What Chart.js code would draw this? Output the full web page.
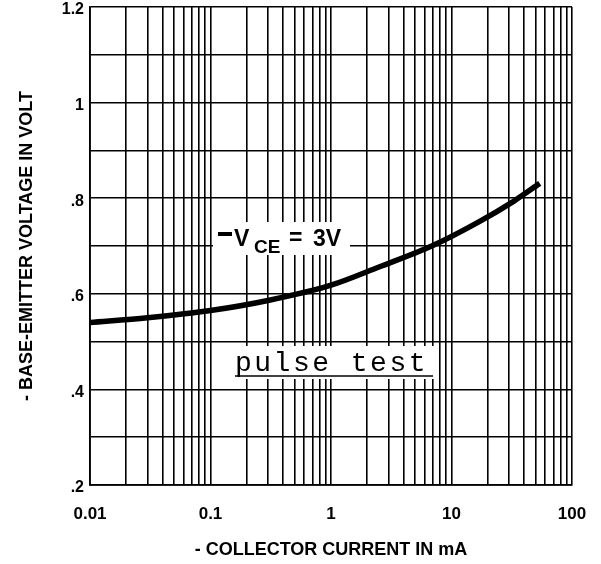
<!DOCTYPE html>
<html>
<head>
<meta charset="utf-8">
<script src="https://cdn.jsdelivr.net/npm/chart.js@4/dist/chart.umd.min.js"></script>
<style>
  body { margin: 0; background: #fff; }
</style>
</head>
<body>
<canvas id="grafica" width="601" height="564"></canvas>
<script>
// collector current in mA
const current = [0.01, 0.03, 0.1, 0.3, 1, 2.5, 7, 17, 33, 54];
// base-emitter voltage in volt at those currents
const voltage = [0.540, 0.550, 0.565, 0.586, 0.618, 0.656, 0.701, 0.751, 0.794, 0.831];

// log grid: decades and the 2..9 lines inside each
const decades = [0.01, 0.1, 1, 10];
const multiples = [1, 2, 3, 4, 5, 6, 7, 8, 9];
const xMax = 100;
const xLabels = { 0.01: '0.01', 0.1: '0.1', 1: '1', 10: '10', 100: '100' };

// horizontal lines every 0.1 V, labels every 0.2 V
const yLines = [0.2, 0.3, 0.4, 0.5, 0.6, 0.7, 0.8, 0.9, 1.0, 1.1, 1.2];
const yLabels = ['.2', '', '.4', '', '.6', '', '.8', '', '1', '', '1.2'];

const xLines = [];
decades.forEach(d => multiples.forEach(m => xLines.push(+(d * m).toPrecision(3))));
xLines.push(xMax);

const FONT = '"Liberation Sans", Arial, sans-serif';

const notes = {
  id: 'notes',
  afterDraw(chart) {
    const ctx = chart.ctx;
    ctx.save();

    // -VCE = 3V
    ctx.fillStyle = '#fff';
    ctx.fillRect(213, 222, 137, 33);
    ctx.fillStyle = '#000';
    ctx.fillRect(218, 232, 14, 4);   // the leading minus
    ctx.textBaseline = 'alphabetic';
    ctx.font = 'bold 23px ' + FONT;
    ctx.fillText('V', 234, 246);
    ctx.font = 'bold 19px ' + FONT;
    ctx.fillText('CE', 254, 253);
    ctx.font = 'bold 23px ' + FONT;
    ctx.fillText('=', 289, 245);
    ctx.fillText('3V', 313, 246);

    // pulse test
    ctx.fillStyle = '#fff';
    ctx.fillRect(231, 346, 205, 33);
    ctx.fillStyle = '#000';
    ctx.font = '28px "Liberation Mono", monospace';
    ctx.letterSpacing = '2.5px';
    ctx.fillText('pulse test', 235, 371);
    ctx.beginPath();
    ctx.lineWidth = 1.5;
    ctx.strokeStyle = '#000';
    ctx.moveTo(235, 376);
    ctx.lineTo(433, 376);
    ctx.stroke();

    ctx.restore();
  }
};

new Chart(document.getElementById('grafica'), {
  type: 'line',
  data: {
    datasets: [{
      data: current.map((c, i) => ({ x: c, y: voltage[i] })),
      borderColor: '#000',
      borderWidth: 5.5,
      pointRadius: 0,
      cubicInterpolationMode: 'monotone',
      fill: false
    }]
  },
  options: {
    responsive: false,
    animation: false,
    layout: { padding: { top: 7, right: 29, left: 0, bottom: 0 } },
    plugins: {
      legend: { display: false },
      tooltip: { enabled: false }
    },
    scales: {
      x: {
        type: 'logarithmic',
        min: 0.01,
        max: xMax,
        afterBuildTicks: s => { s.ticks = xLines.map(v => ({ value: v })); },
        afterFit: s => { s.height = 79; s.paddingLeft = 0; s.paddingRight = 0; },
        grid: { color: '#000', lineWidth: 1.6, drawTicks: false },
        border: { color: '#000', width: 1.8 },
        ticks: {
          autoSkip: false,
          maxRotation: 0,
          padding: 19,
          color: '#000',
          font: { family: FONT, size: 17, weight: 'bold' },
          callback: v => xLabels[v] !== undefined ? xLabels[v] : ''
        },
        title: {
          display: true,
          text: '- COLLECTOR CURRENT IN mA',
          color: '#000',
          font: { family: FONT, size: 18, weight: 'bold' },
          padding: { top: 0, bottom: 3 }
        }
      },
      y: {
        type: 'linear',
        min: 0.2,
        max: 1.2,
        afterBuildTicks: s => { s.ticks = yLines.map(v => ({ value: v })); },
        afterFit: s => { s.width = 90; s.paddingTop = 0; s.paddingBottom = 0; },
        grid: { color: '#000', lineWidth: 1.6, drawTicks: false },
        border: { color: '#000', width: 1.8 },
        ticks: {
          autoSkip: false,
          padding: 6,
          labelOffset: 3,
          color: '#000',
          font: { family: FONT, size: 16, weight: 'bold' },
          callback: (v, i) => yLabels[i]
        },
        title: {
          display: true,
          text: '- BASE-EMITTER VOLTAGE IN VOLT',
          color: '#000',
          font: { family: FONT, size: 18, weight: 'bold' },
          padding: { top: 16, bottom: 0 }
        }
      }
    }
  },
  plugins: [notes]
});
</script>
</body>
</html>
